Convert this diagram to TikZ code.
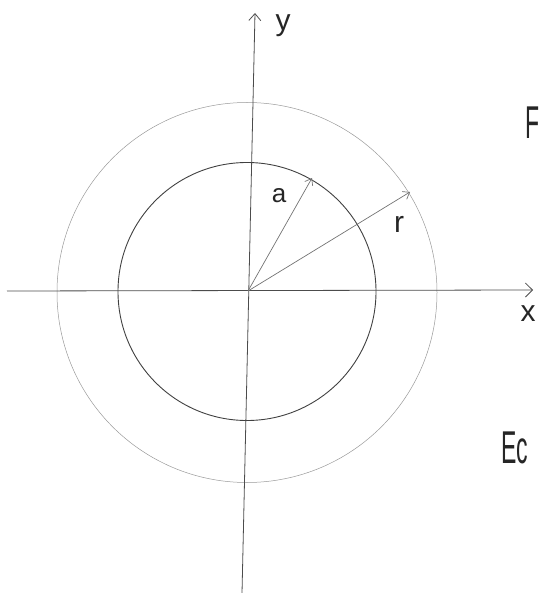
\documentclass[tikz,border=0pt]{standalone}
\usepackage{fontspec}
\setmainfont{Liberation Sans}
\usetikzlibrary{arrows.meta}
\begin{document}
\begin{tikzpicture}[x=1pt,y=-1pt,
  axis/.style={draw=black!70,line width=0.8pt},
  vec/.style={draw=black!55,line width=0.7pt,-{Straight Barb[length=6pt,width=9pt]}},
  inner/.style={draw=black!75,line width=0.9pt},
  outer/.style={draw=black!40,line width=0.5pt},
  hand/.style={text=black!85,inner sep=0pt}]
\useasboundingbox (0,0) rectangle (542,593);
\coordinate (O) at (248,291);
\coordinate (xs) at (7,291);
\coordinate (xe) at (533,290);
\coordinate (ys) at (242,593);
\coordinate (ye) at (255,13);
\coordinate (A) at (312,178);
\coordinate (R) at (410,192);
% circles
\draw[outer] (247,292.5) circle (190);
\draw[inner] (247,291.5) circle (129);
% axes
\draw[axis,-{Straight Barb[length=7pt,width=14pt]}] (xs) -- (xe);
\draw[axis,-{Straight Barb[length=7pt,width=12pt]}] (ys) -- (ye);
% vectors
\draw[vec] (O) -- (A);
\draw[vec] (O) -- (R);
% labels
\node[hand,font=\fontsize{30}{30}\selectfont] (ly) at (283,26) {y};
\node[hand,font=\fontsize{30}{30}\selectfont] (lx) at (528,314) {x};
\node[hand,font=\fontsize{26}{26}\selectfont] (la) at (279,196) {a};
\node[hand,font=\fontsize{30}{30}\selectfont] (lr) at (399,224) {r};
\node[hand,font=\fontsize{46}{46}\selectfont,anchor=west] (lF) at (525,123) {\scalebox{0.5}[1]{F}};
\node[hand,font=\fontsize{46}{46}\selectfont,anchor=west] (lE) at (501,448) {\scalebox{0.5}[1]{Ec}};
\end{tikzpicture}
\end{document}
